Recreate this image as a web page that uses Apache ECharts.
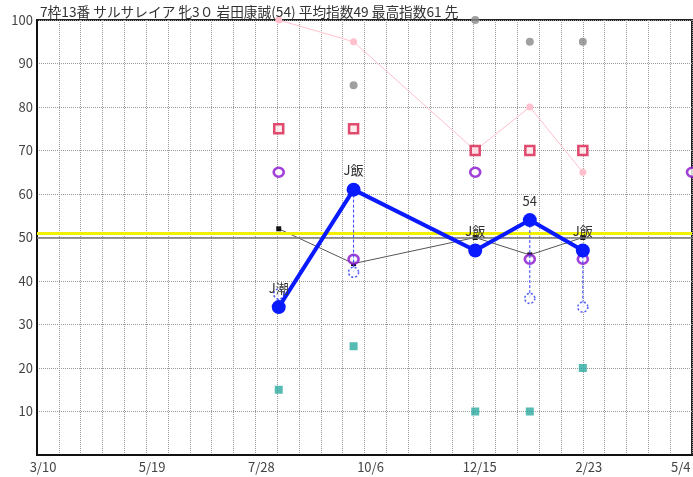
<!doctype html>
<html lang="ja">
<head>
  <meta charset="UTF-8">
  <script src="https://cdn.jsdelivr.net/npm/echarts@6/dist/echarts.min.js"></script>
  <title>指数チャート</title>
  <style type="text/css">
    html, body { margin: 0; padding: 0; background: #fff; }
    #canvas { width: 693px; height: 477px; }
  </style>
</head>
<body>
<div id="canvas"></div>
<script type="text/javascript">
  const startDate = '2018-03-10'
  const endDate = '2019-05-04'
  const raceDates = ['2018-08-12', '2018-09-29', '2018-12-16', '2019-01-20', '2019-02-23']
  const nextDate = '2019-05-04'

  const mainIndex = [34, 61, 47, 54, 47]
  const subIndex = [37, 42, '-', 36, 34]
  const baseIndex = [52, 44, 50, 46, 50]
  const pinkIndex = [100, 95, 70, 80, 65]
  const greyIndex = ['-', 85, 100, 95, 95]
  const redIndex = [75, 75, 70, 70, 70]
  const purpleIndex = [65, 45, 65, 45, 45]
  const purpleNext = 65
  const tealIndex = [15, 25, 10, 10, 20]
  const pointLabels = ['J潮', 'J飯', 'J飯', '54', 'J飯']
  const yellowLevel = 51
  const greyLevel = 50

  const title = '7枠13番 サルサレイア 牝3０ 岩田康誠(54) 平均指数49 最高指数61 先'
  const font = '"Noto Sans CJK JP", "Noto Sans", sans-serif'

  const DAY = 86400000
  const t0 = Date.parse(startDate)
  const toDay = s => Math.round((Date.parse(s) - t0) / DAY)
  const xs = raceDates.map(toDay)
  const xMax = toDay(endDate)
  const pair = arr => arr.map((v, i) => [xs[i], v])

  const chart = echarts.init(document.getElementById('canvas'))

  chart.setOption({
    animation: false,
    textStyle: { fontFamily: font },
    title: {
      text: title,
      left: 35,
      top: 0,
      textStyle: { fontSize: 13.7, fontWeight: 'normal', color: '#333', fontFamily: font }
    },
    grid: {
      left: 37, right: 1, top: 20, bottom: 22,
      outerBoundsMode: 'none',
      containLabel: false,
      show: true, borderColor: '#222', borderWidth: 2
    },
    xAxis: {
      type: 'value',
      min: 0,
      max: xMax,
      interval: 70,
      axisLine: { show: true, lineStyle: { color: '#111', width: 2 } },
      axisTick: { show: false },
      axisLabel: {
        color: '#444', fontSize: 13, margin: 6, padding: [0, 0, 0, 12],
        formatter: v => {
          const d = new Date(t0 + v * DAY)
          const s = (d.getUTCMonth() + 1) + '/' + d.getUTCDate()
          // the last label sits further left, cut by the frame
          return v >= xMax ? '{last|' + s + '}' : s
        },
        rich: {
          last: { width: 54, align: 'left', color: '#444', fontSize: 13 }
        }
      },
      splitLine: { show: true, lineStyle: { color: '#999', type: [1, 1] } },
      minorTick: { show: false, splitNumber: 5 },
      minorSplitLine: { show: true, lineStyle: { color: '#999', type: [1, 1] } }
    },
    yAxis: {
      type: 'value',
      min: 0, max: 100, interval: 10,
      axisLine: { show: true, lineStyle: { color: '#111', width: 2 } },
      axisTick: { show: false },
      axisLabel: { color: '#444', fontSize: 13, margin: 4, showMinLabel: false },
      splitLine: { show: true, lineStyle: { color: '#999', type: [1, 1] } }
    },
    series: [
      {
        type: 'line',
        data: [],
        silent: true,
        markLine: {
          symbol: 'none',
          label: { show: false },
          data: [
            { yAxis: greyLevel, lineStyle: { color: '#777', width: 1.5, type: 'solid' } },
            { yAxis: yellowLevel, lineStyle: { color: '#f0f000', width: 3, type: 'solid' } }
          ]
        }
      },
      {
        name: 'pink',
        type: 'line',
        data: pair(pinkIndex),
        lineStyle: { color: '#ffc0cc', width: 1 },
        symbol: 'circle',
        symbolSize: 7,
        itemStyle: { color: '#ffbfcc' },
        z: 2
      },
      {
        name: 'base',
        type: 'line',
        data: pair(baseIndex),
        lineStyle: { color: '#555', width: 1 },
        symbol: 'rect',
        symbolSize: 5,
        itemStyle: { color: '#111' },
        z: 3
      },
      {
        name: 'grey',
        type: 'scatter',
        data: pair(greyIndex),
        symbol: 'circle',
        symbolSize: 8,
        itemStyle: { color: '#888' },
        z: 4
      },
      {
        name: 'red',
        type: 'scatter',
        data: pair(redIndex),
        symbol: 'rect',
        symbolSize: 9,
        itemStyle: { color: '#fde6ea', borderColor: '#d8204c', borderWidth: 2.5 },
        z: 4
      },
      {
        name: 'purple',
        type: 'scatter',
        data: pair(purpleIndex).concat([[toDay(nextDate), purpleNext]]),
        symbol: 'circle',
        symbolSize: [10, 9],
        clip: false,
        itemStyle: { color: '#fff', borderColor: '#8a10d0', borderWidth: 2.5 },
        z: 4
      },
      {
        name: 'teal',
        type: 'scatter',
        data: pair(tealIndex),
        symbol: 'rect',
        symbolSize: 8,
        itemStyle: { color: '#2aaaa0' },
        z: 4
      },
      {
        name: 'drop',
        type: 'custom',
        data: mainIndex.map((v, i) => [xs[i], v, subIndex[i]]).filter(d => d[2] !== '-'),
        renderItem: (params, api) => {
          const p1 = api.coord([api.value(0), api.value(1)])
          const p2 = api.coord([api.value(0), api.value(2)])
          return {
            type: 'line',
            shape: { x1: p1[0], y1: p1[1], x2: p2[0], y2: p2[1] },
            style: { stroke: '#3344ff', lineWidth: 1, lineDash: [3, 2] }
          }
        },
        z: 5
      },
      {
        name: 'sub',
        type: 'scatter',
        data: pair(subIndex),
        symbol: 'circle',
        symbolSize: 10,
        itemStyle: { color: '#fff', borderColor: '#2233ee', borderWidth: 1.5, borderType: [2, 2] },
        z: 6
      },
      {
        name: 'main',
        type: 'line',
        data: pair(mainIndex),
        lineStyle: { color: '#0a1aff', width: 4 },
        symbol: 'circle',
        symbolSize: 14,
        itemStyle: { color: '#0a1aff' },
        label: {
          show: true,
          position: 'top',
          distance: 6,
          color: '#333',
          fontSize: 13,
          formatter: p => pointLabels[p.dataIndex]
        },
        z: 7
      }
    ]
  })
</script>
</body>
</html>
